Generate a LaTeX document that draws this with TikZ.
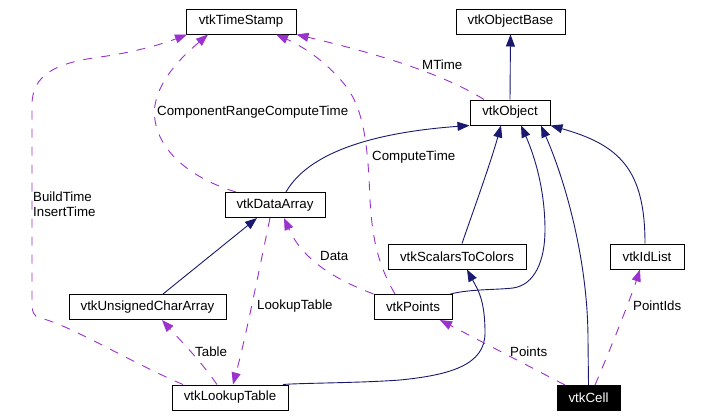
\documentclass[tikz,border=0pt]{standalone}
\usepackage{fontspec}
\setmainfont{Liberation Sans}
\usetikzlibrary{arrows.meta}
\definecolor{edgeblue}{HTML}{191970}
\definecolor{edgepurple}{HTML}{9A32CD}
\begin{document}
\begin{tikzpicture}[x=1pt,y=-1pt,
  font=\fontsize{13.3}{15}\selectfont,
  cls/.style={draw=black, line width=1pt, inner sep=0pt, minimum height=25pt, anchor=center},
  inh/.style={draw=edgeblue, line width=0.9pt, -{Triangle[length=12pt,width=9pt]}},
  usage/.style={draw=edgepurple, line width=0.9pt, dash pattern=on 9pt off 9pt, -{Triangle[length=12pt,width=9pt]}},
  lbl/.style={anchor=west, inner sep=0pt, text=black}]
\fill[white] (0,0) rectangle (706,418);
\useasboundingbox (0,0) rectangle (706,418);

% nodes
\node[cls, minimum width=110pt] (ts)  at (241,21.5)   {vtkTimeStamp};
\node[cls, minimum width=109pt] (ob)  at (510.5,21.5) {vtkObjectBase};
\node[cls, minimum width=80pt]  (obj) at (510,112.5)  {vtkObject};
\node[cls, minimum width=100pt] (da)  at (275,205)    {vtkDataArray};
\node[cls, minimum width=157pt] (uca) at (147.5,307)  {vtkUnsignedCharArray};
\node[cls, minimum width=116pt] (lt)  at (230,397.5)  {vtkLookupTable};
\node[cls, minimum width=138pt] (stc) at (457,256.5)  {vtkScalarsToColors};
\node[cls, minimum width=78pt]  (pts) at (413,307)    {vtkPoints};
\node[cls, minimum width=74pt]  (idl) at (647,256.5)  {vtkIdList};
\node[cls, minimum width=63pt, fill=black, text=white] (cell) at (588.5,398) {vtkCell};

% inheritance / blue edges
\draw[inh] (obj.north) -- (ob.south);
\draw[inh] ([xshift=11pt]da.north) .. controls (310,150) and (380,132) .. (obj.south west);
\draw[inh] ([xshift=5pt]stc.north) .. controls (470,220) and (490,165) .. ([xshift=-9pt]obj.south);
\draw[inh] ([xshift=-2pt]pts.north east) .. controls (470,289) and (495,290) .. (513,288)
  .. controls (535,285) and (545,260) .. (545,230)
  .. controls (545,185) and (532,150) .. ([xshift=11pt]obj.south);
\draw[inh] (cell.north) -- (588,340) .. controls (588,260) and (565,180) .. ([xshift=31pt]obj.south);
\draw[inh] ([xshift=-2pt]idl.north) .. controls (645,170) and (620,145) .. (obj.south east);
\draw[inh] ([xshift=15.5pt]uca.north) -- ([xshift=-18pt]da.south);
\draw[inh] ([xshift=53pt]lt.north) .. controls (300,383) and (360,383) .. (400,380)
  .. controls (450,375) and (485,365) .. (485,333)
  .. controls (485,300) and (478,290) .. ([xshift=10pt]stc.south);

% usage / purple edges
\draw[usage] ([xshift=-39pt]da.north) .. controls (180,175) and (150,140) .. (155,105)
  .. controls (160,75) and (190,50) .. ([xshift=-33pt]ts.south);
\node[lbl] (l1) at (157,112) {ComponentRangeComputeTime};

\draw[usage] ([xshift=-47pt]lt.north) .. controls (130,362) and (70,325) .. (40,318)
  .. controls (33,316) and (32,312) .. (32,300) -- (32,105)
  .. controls (32,75) and (55,63) .. (100,57)
  .. controls (130,53) and (160,45) .. ([xshift=-54pt]ts.south);
\node[lbl, align=left] (l2) at (33,204) {BuildTime\\InsertTime};

\draw[usage] ([xshift=-18pt]pts.north) .. controls (375,260) and (372,230) .. (370,200)
  .. controls (368,150) and (365,110) .. (345,85)
  .. controls (325,60) and (300,45) .. ([xshift=35pt]ts.south);
\node[lbl] (l3) at (372,157) {ComputeTime};

\draw[usage] ([xshift=-26pt]obj.north) .. controls (440,72) and (370,52) .. (ts.south east);
\node[lbl] (l4) at (422,65) {MTime};

\draw[usage] (pts.north west) .. controls (345,283) and (305,265) .. ([xshift=9pt]da.south);
\node[lbl] (l5) at (320,256) {Data};

\draw[usage] ([xshift=-5pt]da.south) .. controls (255,290) and (245,340) .. ([xshift=3pt]lt.north);
\node[lbl] (l6) at (257,306) {LookupTable};

\draw[usage] ([xshift=-13pt]lt.north) .. controls (200,360) and (180,340) .. ([xshift=14.5pt]uca.south);
\node[lbl] (l7) at (195,352) {Table};

\draw[usage] ([xshift=-23.5pt]cell.north) -- ([xshift=27pt]pts.south);
\node[lbl] (l8) at (510,352) {Points};

\draw[usage] ([xshift=6.5pt]cell.north) .. controls (610,350) and (630,300) .. ([xshift=-7pt]idl.south);
\node[lbl] (l9) at (633,306) {PointIds};
\end{tikzpicture}
\end{document}
